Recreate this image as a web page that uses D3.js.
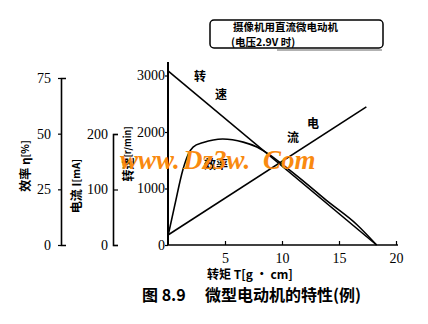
<!DOCTYPE html>
<html>
<head>
<meta charset="utf-8">
<script src="https://cdn.jsdelivr.net/npm/d3@7/dist/d3.min.js"></script>
<style>
  html, body { margin: 0; padding: 0; background: #fff; }
  svg { display: block; }
  .num { font-family: "Liberation Serif", "DejaVu Serif", serif; font-size: 14px; fill: #000; }
  .cjk { font-family: "Noto Sans CJK SC", sans-serif; font-weight: bold; fill: #000; }
</style>
</head>
<body>
<svg id="chart" width="428" height="324"></svg>
<script>
// Micro DC motor characteristics (camcorder motor at 2.9 V)
const torqueTicks = [5, 10, 15, 20];
const speedTicks = [0, 1000, 2000, 3000];
const currentTicks = [0, 100, 200];
const efficiencyTicks = [0, 25, 50, 75];

// speed [r/min] vs torque [g·cm]
const speedTorque = [0, 18.3];
const speedValues = [3080, 0];

// current [mA] vs torque
const currentTorque = [0, 17.4];
const currentValues = [18, 249];

// efficiency [%] vs torque
const effTorque = [0, 0.6, 1.3, 1.75, 2.2, 3.1, 4.8, 6.6, 7.8, 8.8, 10.2, 11.8, 13.9, 16.6, 18.3];
const effValues = [4, 18, 33.7, 40.4, 44, 46, 47.6, 46.2, 44, 40.9, 35.5, 29, 20, 9, 0];

const svg = d3.select("#chart");
svg.append("rect").attr("width", 428).attr("height", 324).attr("fill", "#fff");

const x = d3.scaleLinear().domain([0, 20]).range([168, 396]);
const ySpeed = d3.scaleLinear().domain([0, 3000]).range([245, 75.5]);
const yCurrent = d3.scaleLinear().domain([0, 200]).range([245, 134]);
const yEff = d3.scaleLinear().domain([0, 75]).range([245, 78]);
const fmt = d3.format("d");

// efficiency axis
const gEff = svg.append("g").attr("transform", "translate(61,0)")
  .call(d3.axisLeft(yEff).tickValues(efficiencyTicks).tickFormat(fmt)
    .tickSizeInner(3).tickSizeOuter(-5).tickPadding(7));
// current axis
const gCur = svg.append("g").attr("transform", "translate(113,0)")
  .call(d3.axisLeft(yCurrent).tickValues(currentTicks).tickFormat(fmt)
    .tickSizeInner(-5).tickSizeOuter(-5).tickPadding(5));
// speed axis
const gSpd = svg.append("g").attr("transform", "translate(168,0)")
  .call(d3.axisLeft(ySpeed).tickValues(speedTicks).tickFormat(fmt)
    .tickSizeInner(3).tickSizeOuter(0).tickPadding(0));
gSpd.select(".domain").remove();
svg.append("line").attr("x1", 168).attr("x2", 168).attr("y1", 62).attr("y2", 245)
  .attr("stroke", "#000").attr("stroke-width", 2);
// torque axis
const gX = svg.append("g").attr("transform", "translate(0,245)")
  .call(d3.axisBottom(x).tickValues(torqueTicks).tickFormat(fmt)
    .tickSizeInner(-4).tickSizeOuter(0).tickPadding(8));
gX.select(".domain").attr("d", "M167,0H398");

[gEff, gCur, gSpd, gX].forEach(g => {
  g.selectAll(".domain").attr("stroke", "#000").attr("stroke-width", 1.6);
  g.selectAll(".tick line").attr("stroke", "#000").attr("stroke-width", 1.2);
  g.selectAll(".tick text").attr("class", "num").attr("font-family", null).attr("font-size", null);
});

// axis titles
function vlabel(cx, cy, parts) {
  const t = svg.append("text").attr("class", "cjk")
    .attr("text-anchor", "middle").attr("dominant-baseline", "central")
    .attr("transform", `translate(${cx},${cy}) rotate(-90)`);
  parts.forEach(p => t.append("tspan").attr("font-size", p[1]).text(p[0]));
}
vlabel(24, 166, [["效率 η", 12], ["[%]", 10]]);
vlabel(75, 186, [["电流 I", 12], ["[mA]", 10]]);
vlabel(127, 154, [["转速", 12], ["[r/min]", 9]]);

svg.append("text").attr("class", "cjk").attr("x", 250).attr("y", 279)
  .attr("text-anchor", "middle").attr("font-size", 12)
  .text("转矩 T[g · cm]");

// curves
const line = d3.line().x(d => x(d[0]));
svg.append("path")
  .attr("d", line.y(d => ySpeed(d[1])).curve(d3.curveLinear)(d3.zip(speedTorque, speedValues)))
  .attr("fill", "none").attr("stroke", "#000").attr("stroke-width", 1.6);
svg.append("path")
  .attr("d", line.y(d => yCurrent(d[1])).curve(d3.curveLinear)(d3.zip(currentTorque, currentValues)))
  .attr("fill", "none").attr("stroke", "#000").attr("stroke-width", 1.6);
svg.append("path")
  .attr("d", line.y(d => yEff(d[1])).curve(d3.curveMonotoneX)(d3.zip(effTorque, effValues)))
  .attr("fill", "none").attr("stroke", "#000").attr("stroke-width", 1.6);

// curve names
const cl = [["转", 200, 75], ["速", 221, 93], ["电", 313, 122], ["流", 293, 136], ["效率", 216, 163]];
cl.forEach(c => svg.append("text").attr("class", "cjk").attr("font-size", 12)
  .attr("x", c[1]).attr("y", c[2]).attr("text-anchor", "middle").attr("dominant-baseline", "central").text(c[0]));

// site mark
const mark = svg.append("text").attr("y", 169)
  .attr("font-family", "Liberation Serif, serif").attr("font-style", "italic").attr("font-weight", "bold")
  .attr("font-size", 27).attr("fill", "#f98a10");
[["www.", 120], ["Dz3w.", 183], ["Com", 263]].forEach(w =>
  mark.append("tspan").attr("x", w[1]).text(w[0]));

// title box
svg.append("rect").attr("x", 210).attr("y", 20).attr("width", 173).attr("height", 28).attr("rx", 4)
  .attr("fill", "none").attr("stroke", "#000").attr("stroke-width", 1.5);
svg.append("line").attr("x1", 277).attr("x2", 382).attr("y1", 50).attr("y2", 50)
  .attr("stroke", "#999").attr("stroke-width", 1.5);
svg.append("text").attr("class", "cjk").attr("x", 233).attr("y", 26.5).attr("font-size", 10.5)
  .attr("dominant-baseline", "central").text("摄像机用直流微电动机");
svg.append("text").attr("class", "cjk").attr("x", 231).attr("y", 41.5).attr("font-size", 10.5)
  .attr("dominant-baseline", "central").text("(电压2.9V 时)");

// caption
const cap = svg.append("text").attr("class", "cjk").attr("y", 301).attr("font-size", 16);
cap.append("tspan").attr("x", 142).text("图 8.9");
cap.append("tspan").attr("x", 205).text("微型电动机的特性(例)");
</script>
</body>
</html>
